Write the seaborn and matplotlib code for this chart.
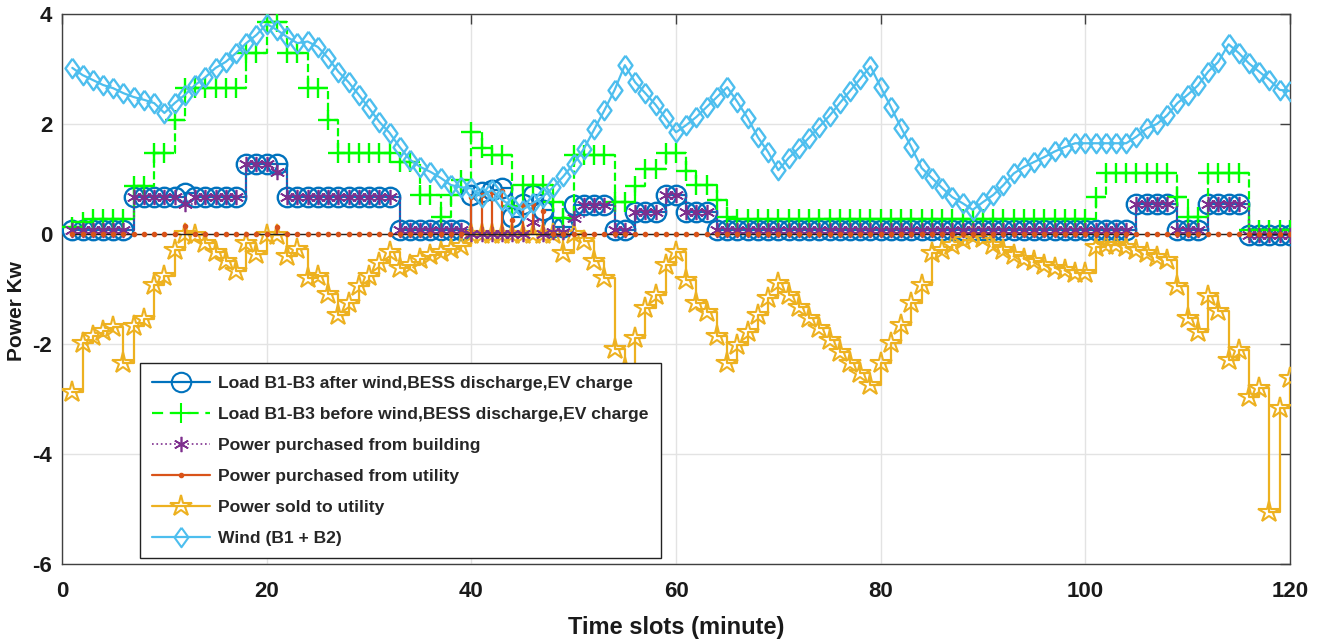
import numpy as np
import pandas as pd
import matplotlib
matplotlib.use('Agg')
import matplotlib.pyplot as plt
import seaborn as sns
from matplotlib import font_manager
from matplotlib.lines import Line2D
from matplotlib.legend_handler import HandlerLine2D

# time slots (minute)
slots = np.arange(1, 121)

# Load B1-B3 after wind, BESS discharge, EV charge
load_after = [0.08, 0.08, 0.08, 0.08, 0.08, 0.08, 0.68, 0.68, 0.68, 0.68,
              0.68, 0.74, 0.68, 0.68, 0.68, 0.68, 0.68, 1.28, 1.28, 1.28,
              1.28, 0.68, 0.68, 0.68, 0.68, 0.68, 0.68, 0.68, 0.68, 0.68,
              0.68, 0.68, 0.08, 0.08, 0.08, 0.08, 0.08, 0.08, 0.08, 0.70,
              0.76, 0.80, 0.83, 0.30, 0.55, 0.71, 0.44, 0.13, 0.13, 0.53,
              0.53, 0.53, 0.53, 0.08, 0.08, 0.40, 0.40, 0.40, 0.70, 0.70,
              0.40, 0.40, 0.40, 0.08, 0.08, 0.08, 0.08, 0.08, 0.08, 0.08,
              0.08, 0.08, 0.08, 0.08, 0.08, 0.08, 0.08, 0.08, 0.08, 0.08,
              0.08, 0.08, 0.08, 0.08, 0.08, 0.08, 0.08, 0.08, 0.08, 0.08,
              0.08, 0.08, 0.08, 0.08, 0.08, 0.08, 0.08, 0.08, 0.08, 0.08,
              0.08, 0.08, 0.08, 0.08, 0.55, 0.55, 0.55, 0.55, 0.08, 0.08,
              0.08, 0.55, 0.55, 0.55, 0.55, -0.02, -0.02, -0.02, -0.02, -0.02]

# Load B1-B3 before wind, BESS discharge, EV charge
load_before = [0.12, 0.22, 0.28, 0.28, 0.28, 0.28, 0.88, 0.88, 1.47, 1.47,
               2.07, 2.65, 2.65, 2.65, 2.65, 2.65, 2.65, 3.29, 3.29, 3.86,
               3.86, 3.29, 3.29, 2.65, 2.65, 2.07, 1.47, 1.47, 1.47, 1.47,
               1.47, 1.47, 1.31, 1.31, 0.71, 0.71, 0.31, 0.71, 0.98, 1.86,
               1.56, 1.44, 1.44, 0.50, 0.89, 0.89, 0.89, 0.58, 0.29, 1.44,
               1.44, 1.44, 1.44, 0.58, 0.58, 0.87, 1.18, 1.18, 1.47, 1.47,
               1.14, 0.89, 0.89, 0.62, 0.31, 0.28, 0.28, 0.28, 0.28, 0.28,
               0.28, 0.28, 0.28, 0.28, 0.28, 0.28, 0.28, 0.28, 0.28, 0.28,
               0.28, 0.28, 0.28, 0.28, 0.28, 0.28, 0.28, 0.28, 0.28, 0.28,
               0.28, 0.28, 0.28, 0.28, 0.28, 0.28, 0.28, 0.28, 0.28, 0.28,
               0.68, 1.11, 1.11, 1.11, 1.11, 1.11, 1.11, 1.11, 0.68, 0.31,
               0.31, 1.11, 1.11, 1.11, 1.11, 0.08, 0.08, 0.08, 0.08, 0.08]

# Power purchased from building
bought_building = [0.08, 0.08, 0.08, 0.08, 0.08, 0.08, 0.68, 0.68, 0.68, 0.68,
                   0.68, 0.55, 0.68, 0.68, 0.68, 0.68, 0.68, 1.28, 1.28, 1.28,
                   1.13, 0.68, 0.68, 0.68, 0.68, 0.68, 0.68, 0.68, 0.68, 0.68,
                   0.68, 0.68, 0.08, 0.08, 0.08, 0.08, 0.08, 0.08, 0.08, 0.00,
                   0.00, 0.00, 0.00, 0.00, 0.00, 0.22, 0.00, 0.03, 0.03, 0.29,
                   0.53, 0.53, 0.53, 0.08, 0.08, 0.40, 0.40, 0.40, 0.70, 0.70,
                   0.40, 0.40, 0.40, 0.08, 0.08, 0.08, 0.08, 0.08, 0.08, 0.08,
                   0.08, 0.08, 0.08, 0.08, 0.08, 0.08, 0.08, 0.08, 0.08, 0.08,
                   0.08, 0.08, 0.08, 0.08, 0.08, 0.08, 0.08, 0.08, 0.08, 0.08,
                   0.08, 0.08, 0.08, 0.08, 0.08, 0.08, 0.08, 0.08, 0.08, 0.08,
                   0.08, 0.08, 0.08, 0.08, 0.55, 0.55, 0.55, 0.55, 0.08, 0.08,
                   0.08, 0.55, 0.55, 0.55, 0.55, -0.02, -0.02, -0.02, -0.02, -0.02]

# Power purchased from utility (stem)
bought_utility = [0, 0, 0, 0, 0, 0, 0, 0, 0, 0,
                  0, 0.14, 0, 0, 0, 0, 0, 0, 0, 0,
                  0.13, 0, 0, 0, 0, 0, 0, 0, 0, 0,
                  0, 0, 0, 0, 0, 0, 0, 0, 0, 0.68,
                  0.70, 0.76, 0.78, 0.26, 0.52, 0.55, 0.42, 0, 0, 0,
                  0, 0, 0, 0, 0, 0, 0, 0, 0, 0,
                  0, 0, 0, 0, 0, 0, 0, 0, 0, 0,
                  0, 0, 0, 0, 0, 0, 0, 0, 0, 0,
                  0, 0, 0, 0, 0, 0, 0, 0, 0, 0,
                  0, 0, 0, 0, 0, 0, 0, 0, 0, 0,
                  0, 0, 0, 0, 0, 0, 0, 0, 0, 0,
                  0, 0, 0, 0, 0, 0, 0, 0, 0, 0]

# Power sold to utility
sold_utility = [-2.88, -1.99, -1.86, -1.76, -1.70, -2.35, -1.67, -1.55, -0.93, -0.76,
                -0.29, 0.00, -0.02, -0.16, -0.32, -0.50, -0.67, -0.16, -0.36, -0.02,
                -0.02, -0.40, -0.28, -0.80, -0.76, -1.10, -1.47, -1.26, -0.95, -0.76,
                -0.53, -0.32, -0.62, -0.56, -0.46, -0.38, -0.32, -0.27, -0.22, 0.00,
                0.00, 0.00, 0.00, 0.00, 0.00, 0.00, 0.00, 0.00, -0.35, 0.00,
                -0.12, -0.50, -0.80, -2.10, -2.44, -1.89, -1.35, -1.11, -0.56, -0.32,
                -0.84, -1.26, -1.41, -1.86, -2.35, -2.02, -1.78, -1.47, -1.17, -0.89,
                -1.11, -1.32, -1.53, -1.71, -1.93, -2.14, -2.35, -2.53, -2.75, -2.35,
                -1.98, -1.65, -1.26, -0.93, -0.35, -0.29, -0.20, -0.11, -0.04, -0.08,
                -0.20, -0.29, -0.38, -0.46, -0.50, -0.56, -0.62, -0.65, -0.71, -0.71,
                -0.23, -0.20, -0.20, -0.23, -0.29, -0.35, -0.41, -0.48, -0.95, -1.53,
                -1.78, -1.13, -1.40, -2.29, -2.11, -2.97, -2.80, -5.05, -3.16, -2.62]

# Wind (B1 + B2)
wind = [3.02, 2.89, 2.80, 2.71, 2.65, 2.56, 2.49, 2.44, 2.38, 2.20,
        2.38, 2.53, 2.71, 2.85, 3.02, 3.13, 3.29, 3.47, 3.62, 3.82,
        3.71, 3.58, 3.47, 3.50, 3.40, 3.20, 2.95, 2.76, 2.53, 2.29,
        2.04, 1.84, 1.58, 1.35, 1.22, 1.13, 1.02, 0.89, 0.85, 0.83,
        0.68, 0.80, 0.62, 0.50, 0.44, 0.56, 0.68, 0.85, 1.05, 1.28,
        1.55, 1.90, 2.25, 2.62, 3.07, 2.76, 2.56, 2.35, 2.10, 1.85,
        1.98, 2.13, 2.31, 2.49, 2.67, 2.40, 2.11, 1.76, 1.49, 1.16,
        1.38, 1.56, 1.75, 1.95, 2.15, 2.38, 2.60, 2.82, 3.05, 2.67,
        2.31, 1.93, 1.58, 1.20, 1.02, 0.84, 0.67, 0.56, 0.44, 0.58,
        0.71, 0.89, 1.10, 1.22, 1.31, 1.40, 1.50, 1.58, 1.65, 1.65,
        1.65, 1.65, 1.65, 1.65, 1.77, 1.92, 2.00, 2.16, 2.38, 2.53,
        2.70, 2.95, 3.13, 3.45, 3.29, 3.10, 2.95, 2.80, 2.62, 2.60]

labels = ['Load B1-B3 after wind,BESS discharge,EV charge',
          'Load B1-B3 before wind,BESS discharge,EV charge',
          'Power purchased from building',
          'Power purchased from utility',
          'Power sold to utility',
          'Wind (B1 + B2)']

c_blue = '#0072BD'
c_green = '#00FF00'
c_purple = '#7E2F8E'
c_red = '#D95319'
c_yellow = '#EDB120'
c_cyan = '#4DBEEE'

# matlab-like diamond (a bit taller than wide)
diamond = [(0, 1), (0.72, 0), (0, -1), (-0.72, 0), (0, 1)]

df = pd.DataFrame({'slot': slots, 'after': load_after, 'before': load_before,
                   'building': bought_building, 'sold': sold_utility, 'wind': wind})

sns.set_theme(style='whitegrid')
names = {f.name for f in font_manager.fontManager.ttflist}
fam = 'Liberation Sans Narrow' if 'Liberation Sans Narrow' in names else 'Liberation Sans'
plt.rcParams['font.family'] = [fam, 'DejaVu Sans']
plt.rcParams['font.weight'] = 'bold'
plt.rcParams['axes.unicode_minus'] = False

fig = plt.figure(figsize=(13.21, 6.42), dpi=100)
ax = fig.add_axes([0.047, 0.1215, 0.9295, 0.8567])

sns.lineplot(data=df, x='slot', y='after', ax=ax, drawstyle='steps-post',
             color=c_blue, linewidth=1.6, marker='o', markersize=14,
             markerfacecolor='none', markeredgecolor=c_blue, markeredgewidth=1.7, zorder=3)
sns.lineplot(data=df, x='slot', y='before', ax=ax, drawstyle='steps-post',
             color=c_green, linewidth=1.6, linestyle='--', dashes=(5, 3), marker='+', markersize=14,
             markeredgecolor=c_green, markeredgewidth=1.7, zorder=4)
sns.lineplot(data=df, x='slot', y='building', ax=ax, drawstyle='steps-post',
             color=c_purple, linewidth=1.2, linestyle=':', marker=(6, 2, 0), markersize=11,
             markeredgecolor=c_purple, markeredgewidth=1.2, zorder=5)

markerline, stemlines, baseline = ax.stem(slots, bought_utility, linefmt='-', markerfmt='.', basefmt='k-')
markerline.set_color(c_red)
markerline.set_markersize(6)
markerline.set_zorder(6)
stemlines.set_color(c_red)
stemlines.set_linewidth(1.6)
stemlines.set_zorder(6)
baseline.set_color('#222222')
baseline.set_linewidth(1.0)
baseline.set_zorder(5.5)

sns.lineplot(data=df, x='slot', y='sold', ax=ax, drawstyle='steps-post',
             color=c_yellow, linewidth=1.6, marker='*', markersize=16,
             markerfacecolor='none', markeredgecolor=c_yellow, markeredgewidth=1.5, zorder=4.5)
sns.lineplot(data=df, x='slot', y='wind', ax=ax,
             color=c_cyan, linewidth=1.6, marker=diamond, markersize=14,
             markerfacecolor='none', markeredgecolor=c_cyan, markeredgewidth=1.7, zorder=7)

ax.set_xlim(0, 120)
ax.set_ylim(-6, 4)
ax.set_xticks([0, 20, 40, 60, 80, 100, 120])
ax.set_yticks([-6, -4, -2, 0, 2, 4])
ax.grid(True, color='#e3e3e3', linewidth=1.0)
for s in ax.spines.values():
    s.set_color('#404040')
    s.set_linewidth(1.0)
ax.tick_params(direction='in', length=7, width=1, color='#404040', top=True, right=True,
               labelsize=16, labelcolor='#1a1a1a')
ax.tick_params(axis='x', pad=12)
ax.tick_params(axis='y', pad=7)
for t in ax.get_xticklabels() + ax.get_yticklabels():
    t.set_fontweight('bold')
ax.set_xlabel('Time slots (minute)', fontsize=17, fontweight='bold', color='#1a1a1a', labelpad=10)
ax.set_ylabel('Power Kw', fontsize=15, fontweight='bold', color='#1a1a1a')
ax.yaxis.set_label_coords(-0.029, 0.46)


class StemHandler(HandlerLine2D):
    # stem legend: line with the dot at its right end
    def get_xdata(self, legend, xdescent, ydescent, width, height, fontsize):
        xdata = np.array([-xdescent, -xdescent + width])
        return xdata, np.array([-xdescent + width])


h_after = Line2D([], [], color=c_blue, lw=1.6, marker='o', ms=14, mfc='none', mec=c_blue, mew=1.5)
h_before = Line2D([], [], color=c_green, lw=1.6, ls='--', dashes=(5, 3), marker='+', ms=14, mew=1.5)
h_build = Line2D([], [], color=c_purple, lw=1.2, ls=':', marker=(6, 2, 0), ms=11, mew=1.2)
h_util = Line2D([], [], color=c_red, lw=1.6, marker='.', ms=6)
h_sold = Line2D([], [], color=c_yellow, lw=1.6, marker='*', ms=16, mfc='none', mec=c_yellow, mew=1.5)
h_wind = Line2D([], [], color=c_cyan, lw=1.6, marker=diamond, ms=14, mfc='none', mec=c_cyan, mew=1.5)

leg = ax.legend([h_after, h_before, h_build, h_util, h_sold, h_wind], labels,
                loc='lower left', bbox_to_anchor=(0.0635, 0.011), borderaxespad=0,
                frameon=True, fancybox=False, framealpha=1, edgecolor='#222222',
                handlelength=3.3, handletextpad=0.45, labelspacing=0.9, borderpad=0.7,
                prop={'weight': 'bold', 'size': 12.6}, handler_map={h_util: StemHandler()})
leg.get_frame().set_linewidth(1.0)
leg.set_zorder(10)

fig.savefig('out.png', dpi=100)
